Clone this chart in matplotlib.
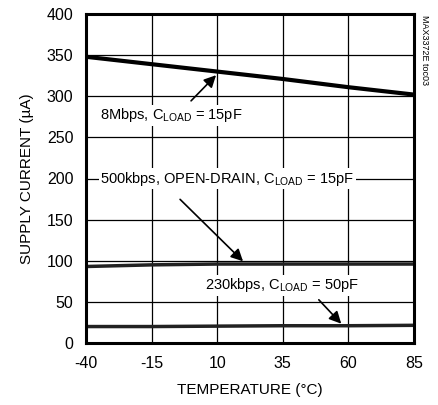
import matplotlib
matplotlib.use("Agg")
import matplotlib.pyplot as plt

plt.rcParams['font.family'] = ['Liberation Sans', 'DejaVu Sans']
plt.rcParams['mathtext.fontset'] = 'custom'
plt.rcParams['mathtext.rm'] = 'Liberation Sans'
plt.rcParams['axes.unicode_minus'] = False

# data
temps = [-40, -15, 10, 35, 60, 85]
i_8mbps = [348, 339, 330, 321, 311, 302]
i_500kbps = [93, 95, 96, 96, 96, 96]
i_230kbps = [20, 20, 20.5, 21, 21, 21.5]

xticks = [-40, -15, 10, 35, 60, 85]
yticks = [0, 50, 100, 150, 200, 250, 300, 350, 400]

fig = plt.figure(figsize=(4.38, 4.05), dpi=100)
ax = fig.add_axes([86 / 438, 1 - 343 / 405, 328 / 438, 329 / 405])

ax.plot(temps, i_8mbps, color='black', lw=3, solid_capstyle='butt')
ax.plot(temps, i_500kbps, color='#222222', lw=2.5, solid_capstyle='butt')
ax.plot(temps, i_230kbps, color='#222222', lw=2.5, solid_capstyle='butt')

ax.set_xlim(-40, 85)
ax.set_ylim(0, 400)
ax.set_xticks(xticks)
ax.set_yticks(yticks)
ax.grid(True, color='black', lw=0.9)
ax.tick_params(length=0, labelsize=11.5, pad=9)
for s in ax.spines.values():
    s.set_linewidth(2.2)

ax.set_xlabel('TEMPERATURE (°C)', fontsize=11, labelpad=9)
ax.set_ylabel('SUPPLY CURRENT (µA)', fontsize=11, labelpad=9)

box = dict(facecolor='white', edgecolor='none', pad=1)
fs = 10.5
ax.text(-34.5, 277, r'8Mbps, $\mathregular{C_{LOAD}}$ = 15pF', fontsize=fs,
        va='center', ha='left', bbox=box)
ax.text(-34.5, 200, r'500kbps, OPEN-DRAIN, $\mathregular{C_{LOAD}}$ = 15pF', fontsize=fs,
        va='center', ha='left', bbox=box)
ax.text(5.5, 70, r'230kbps, $\mathregular{C_{LOAD}}$ = 50pF', fontsize=fs,
        va='center', ha='left', bbox=box)

arrow = dict(arrowstyle='-|>', color='black', lw=1.2, mutation_scale=18)
ax.annotate('', xy=(10.3, 328), xytext=(-0.7, 292), arrowprops=arrow)
ax.annotate('', xy=(20.6, 97), xytext=(-4.9, 177), arrowprops=arrow)
ax.annotate('', xy=(58, 21), xytext=(48, 55), arrowprops=arrow)

fig.text(425 / 438, 1 - 50 / 405, 'MAX3372E toc03', rotation=270, fontsize=6.5,
         ha='center', va='center')

fig.savefig('out.png', dpi=100)
